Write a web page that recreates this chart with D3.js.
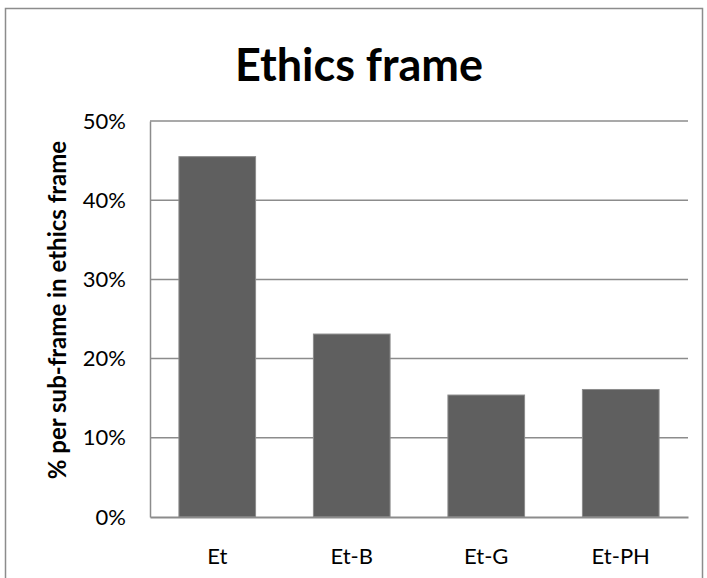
<!DOCTYPE html>
<html>
<head>
<meta charset="utf-8">
<script src="https://cdn.jsdelivr.net/npm/d3@7"></script>
<style>
  html, body { margin: 0; padding: 0; background: #fff; }
  svg { display: block; font-family: Lato, "Open Sans", sans-serif; }
</style>
</head>
<body>
<svg id="chart" width="707" height="578"></svg>
<script>
// Share of each sub-frame within the ethics frame
const categories = ["Et", "Et-B", "Et-G", "Et-PH"];
const values = [0.455, 0.231, 0.154, 0.161];
const yTicks = [0, 0.1, 0.2, 0.3, 0.4, 0.5];

const svg = d3.select("#chart");
const W = 707, H = 578;
const margin = { left: 150, right: 19, top: 121, bottom: 61 };

// outer frame
svg.append("rect")
  .attr("x", 5.5).attr("y", 8.5)
  .attr("width", 697).attr("height", 600)
  .attr("fill", "#fff").attr("stroke", "#8c8c8c").attr("stroke-width", 1.5);

const x = d3.scaleBand()
  .domain(categories)
  .range([margin.left, W - margin.right])
  .paddingInner(0.43).paddingOuter(0.215);

const y = d3.scaleLinear()
  .domain([0, 0.5])
  .range([H - margin.bottom, margin.top]);

// horizontal gridlines
svg.append("g")
  .selectAll("line")
  .data(yTicks.filter(d => d > 0))
  .join("line")
  .attr("x1", margin.left).attr("x2", W - margin.right)
  .attr("y1", d => y(d)).attr("y2", d => y(d))
  .attr("stroke", "#8c8c8c").attr("stroke-width", 1.5);

// bars
svg.append("g")
  .selectAll("rect")
  .data(values)
  .join("rect")
  .attr("x", (d, i) => x(categories[i]))
  .attr("y", d => y(d))
  .attr("width", x.bandwidth())
  .attr("height", d => y(0) - y(d))
  .attr("fill", "#5f5f5f")
  .attr("stroke", "#8c8c8c").attr("stroke-width", 1);

// y axis
const yAxis = d3.axisLeft(y)
  .tickValues(yTicks)
  .tickFormat(d3.format(".0%"))
  .tickSize(0).tickPadding(24);
const gy = svg.append("g").attr("transform", `translate(${margin.left},0)`).call(yAxis);
gy.select(".domain").attr("stroke", "#8c8c8c").attr("stroke-width", 1.5);
gy.selectAll("text").attr("font-size", 22).attr("fill", "#000")
  .attr("font-family", "Lato, sans-serif");

// x axis
const xAxis = d3.axisBottom(x).tickSize(0).tickPadding(31);
const gx = svg.append("g").attr("transform", `translate(0,${H - margin.bottom})`).call(xAxis);
gx.select(".domain").attr("stroke", "#8c8c8c").attr("stroke-width", 2);
gx.selectAll("text").attr("font-size", 22).attr("fill", "#000")
  .attr("font-family", "Lato, sans-serif");

// title
svg.append("text")
  .attr("x", 359).attr("y", 81)
  .attr("text-anchor", "middle")
  .attr("font-size", 45).attr("font-weight", "bold")
  .text("Ethics frame");

// y axis title
svg.append("text")
  .attr("transform", "translate(66,310) rotate(-90)")
  .attr("text-anchor", "middle")
  .attr("font-size", 24).attr("font-weight", "bold")
  .text("% per sub-frame in ethics frame");
</script>
</body>
</html>
